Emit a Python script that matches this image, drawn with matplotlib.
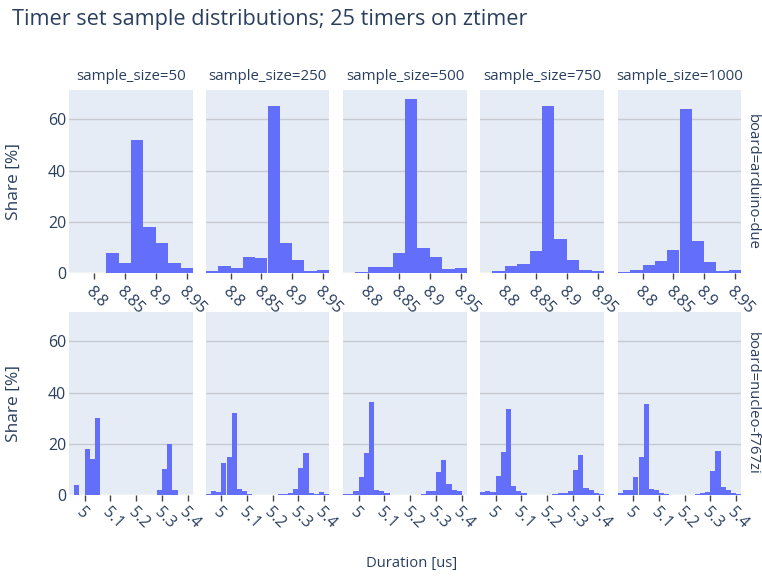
import matplotlib
matplotlib.use("Agg")
import matplotlib.pyplot as plt
import numpy as np

# ---- data -------------------------------------------------------------
sample_sizes = [50, 250, 500, 750, 1000]
boards = ["arduino-due", "nucleo-f767zi"]
bin_width = 0.02

# arduino-due: bins start at 8.76 (10 bins of 0.02 us)
due_bin_start = 8.76
due_share = {
    50:   [0, 0, 0, 8, 4, 52, 18, 12, 4, 2],
    250:  [0.8, 2.8, 2.0, 6.4, 6.0, 65.2, 12.0, 5.2, 0.8, 1.2],
    500:  [0, 0.6, 2.4, 2.4, 7.8, 68.0, 10.0, 6.2, 1.6, 2.0],
    750:  [0, 0.8, 2.93, 3.6, 8.8, 65.2, 13.47, 5.33, 1.33, 0.93],
    1000: [0.4, 1.2, 3.2, 4.8, 9.2, 64.0, 12.6, 4.4, 0.8, 1.2],
}

# nucleo-f767zi: bins start at 4.94 (24 bins of 0.02 us)
nucleo_bin_start = 4.94
nucleo_share = {
    50:   [0, 4, 0, 18, 14, 30, 0, 0, 0, 0, 0, 0,
           0, 0, 0, 0, 0, 2, 10, 20, 2, 0, 0, 0],
    250:  [0.4, 1.6, 1.2, 12.4, 14.8, 32.0, 2.4, 1.6, 0.4, 0, 0, 0,
           0, 0, 0.4, 0.4, 0.8, 2.4, 10.4, 16.4, 0.8, 0.4, 1.2, 0.4],
    500:  [0.4, 0.4, 1.4, 7.0, 16.6, 36.4, 1.8, 1.4, 0.6, 0, 0, 0,
           0, 0, 0, 0.4, 1.4, 1.4, 9.0, 13.8, 4.2, 1.8, 1.4, 0],
    750:  [1.07, 1.47, 1.07, 7.47, 16.67, 33.6, 3.47, 1.47, 0.67, 0, 0, 0,
           0, 0, 0.27, 0.67, 0.67, 1.47, 9.73, 15.73, 2.67, 1.87, 0.67, 0.27],
    1000: [0.6, 1.8, 1.8, 7.0, 15.0, 35.6, 2.3, 1.8, 0.7, 0.2, 0, 0,
           0, 0, 0, 0.2, 0.7, 1.1, 9.4, 17.0, 3.0, 1.8, 0.7, 0.3],
}

due_ticks = [8.8, 8.85, 8.9, 8.95]
nucleo_ticks = [5.0, 5.1, 5.2, 5.3, 5.4]
y_ticks = [0, 20, 40, 60]

# ---- style ------------------------------------------------------------
plt.rcParams["font.family"] = ["Open Sans", "DejaVu Sans"]
TEXT = "#2a3f5f"
BAR = "#636efa"
BG = "#e5ecf6"
GRID = "#c8cacf"
TICK_FS = 11.5

W, H = 762, 578
fig = plt.figure(figsize=(W / 100, H / 100), dpi=100)
renderer = fig.canvas.get_renderer()


def fit_text(t, target_px, along="w"):
    """Scale a text's font size so its extent spans target_px pixels."""
    bb = t.get_window_extent(renderer)
    cur = bb.width if along == "w" else bb.height
    t.set_fontsize(t.get_fontsize() * target_px / cur)


col_px = [(69, 193), (206, 329), (343, 467), (480, 604), (618, 741)]
row_px = [(90, 273.4), (312, 495)]
y_max = 71.5

rows = [
    (due_bin_start, due_share, due_ticks, (8.76, 8.96)),
    (nucleo_bin_start, nucleo_share, nucleo_ticks, (4.94, 5.42)),
]

title_fs = None
for r, (start, shares, xticks, xlim) in enumerate(rows):
    y0, y1 = row_px[r]
    for c, size in enumerate(sample_sizes):
        x0, x1 = col_px[c]
        ax = fig.add_axes([x0 / W, 1 - y1 / H, (x1 - x0) / W, (y1 - y0) / H])
        ax.set_facecolor(BG)
        vals = np.asarray(shares[size], dtype=float)
        lefts = start + bin_width * np.arange(len(vals))
        ax.axhline(0, color="white", lw=2, zorder=0.5)
        ax.bar(lefts, vals, width=bin_width, align="edge", color=BAR,
               linewidth=0, zorder=2)
        ax.set_xlim(*xlim)
        ax.set_ylim(0, y_max)
        ax.set_yticks(y_ticks)
        ax.grid(axis="y", color=GRID, lw=1, zorder=0)
        ax.set_axisbelow(True)
        for s in ax.spines.values():
            s.set_visible(False)
        ax.tick_params(axis="y", length=0, labelsize=TICK_FS, labelcolor=TEXT,
                       pad=2, labelleft=(c == 0))
        ax.set_xticks(xticks)
        ax.set_xticklabels([f"{t:g}" for t in xticks])
        ax.tick_params(axis="x", direction="out", length=4, width=1,
                       color="#444444", labelsize=TICK_FS, labelcolor=TEXT, pad=3)
        for lab in ax.get_xticklabels():
            lab.set_rotation(-45)
            lab.set_rotation_mode("anchor")
            lab.set_ha("left")
            lab.set_va("top")
        if r == 0:
            st = fig.text(((x0 + x1) / 2) / W, 1 - 76 / H, f"sample_size={size}",
                          ha="center", va="center", fontsize=10, color=TEXT)
            if title_fs is None:
                fit_text(st, 110)
                title_fs = st.get_fontsize()
            else:
                st.set_fontsize(title_fs)
    # row label on the right and y-axis title on the left
    rl = fig.text(752 / W, 1 - ((y0 + y1) / 2) / H, f"board={boards[r]}",
                  rotation=-90, ha="center", va="center", fontsize=10.5, color=TEXT)
    if r == 0:
        fit_text(rl, 137, along="h")
        row_fs = rl.get_fontsize()
    else:
        rl.set_fontsize(row_fs)
    yl = fig.text(14 / W, 1 - ((y0 + y1) / 2) / H, "Share [%]", rotation=90,
                  ha="center", va="center", fontsize=11.5, color=TEXT)
    fit_text(yl, 77, along="h")

xl = fig.text(412 / W, 1 - 563 / H, "Duration [us]", ha="center", va="center",
              fontsize=10, color=TEXT)
fit_text(xl, 92)
tt = fig.text(12 / W, 1 - 19 / H, "Timer set sample distributions; 25 timers on ztimer",
              ha="left", va="center", fontsize=14.4, color=TEXT)
fit_text(tt, 513)

fig.savefig("out.png", dpi=100, facecolor="white")
